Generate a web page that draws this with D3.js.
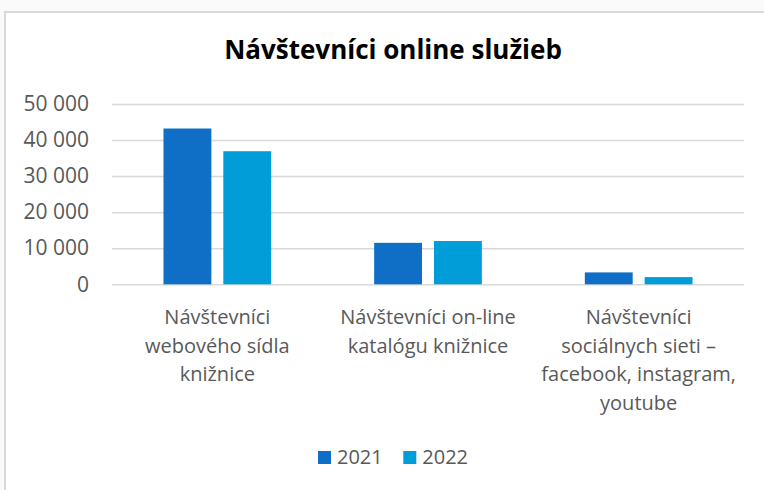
<!DOCTYPE html>
<html>
<head>
<meta charset="utf-8">
<script src="https://cdn.jsdelivr.net/npm/d3@7"></script>
<style>
  html, body { margin: 0; padding: 0; background: #fafafa; }
  svg { display: block; font-family: "Open Sans", sans-serif; }
</style>
</head>
<body>
<div id="root"></div>
<script>
const categories = [
  ["Návštevníci", "webového sídla", "knižnice"],
  ["Návštevníci on-line", "katalógu knižnice"],
  ["Návštevníci", "sociálnych sieti –", "facebook, instagram,", "youtube"]
];
const years = ["2021", "2022"];
const values2021 = [43200, 11500, 3300];
const values2022 = [36900, 12000, 2000];
const yTicks = [0, 10000, 20000, 30000, 40000, 50000];
const colors = ["#0f6fc6", "#009dd9"];

const W = 764, H = 490;
const plot = {left: 112, right: 744, top: 104, bottom: 284.3};

const svg = d3.select("#root").append("svg")
    .attr("width", W)
    .attr("height", H);

// chart frame
svg.append("rect")
    .attr("x", 5).attr("y", 12)
    .attr("width", W + 20).attr("height", H + 20)
    .attr("fill", "#fff")
    .attr("stroke", "#d9d9d9")
    .attr("stroke-width", 2);

svg.append("text")
    .attr("x", 393)
    .attr("y", 59)
    .attr("text-anchor", "middle")
    .attr("font-weight", "bold")
    .attr("font-size", 26)
    .attr("fill", "#000")
    .text("Návštevníci online služieb");

const rows = categories.map((c, i) => ({cat: i, vals: [values2021[i], values2022[i]]}));

const x0 = d3.scaleBand()
    .domain(d3.range(categories.length))
    .range([plot.left, plot.right]);

const groupW = 107.7;
const x1 = d3.scaleBand()
    .domain(years)
    .range([0, groupW])
    .paddingInner(0.2);

const y = d3.scaleLinear()
    .domain([0, 50000])
    .range([plot.bottom, plot.top]);

const fmt = d3.formatLocale({decimal: ",", thousands: " ", grouping: [3], currency: ["", " €"]}).format(",");

const yAxis = d3.axisLeft(y)
    .tickValues(yTicks)
    .tickFormat(fmt)
    .tickSize(-(plot.right - plot.left))
    .tickPadding(23);

const gy = svg.append("g")
    .attr("transform", "translate(" + plot.left + ",0)")
    .call(yAxis);
gy.select(".domain").remove();
gy.selectAll(".tick line")
    .attr("stroke", "#d9d9d9")
    .attr("stroke-width", 1.5);
gy.selectAll(".tick text")
    .attr("fill", "#595959")
    .attr("font-size", 21)
    .attr("font-family", "Open Sans, sans-serif");

// bars
const groups = svg.selectAll(".grp")
    .data(rows)
    .enter().append("g")
    .attr("class", "grp")
    .attr("transform", d => "translate(" + (x0(d.cat) + (x0.bandwidth() - groupW) / 2) + ",0)");

groups.selectAll("rect")
    .data(d => d.vals.map((v, i) => ({year: years[i], v: v, i: i})))
    .enter().append("rect")
    .attr("x", d => x1(d.year))
    .attr("width", x1.bandwidth())
    .attr("y", d => y(d.v))
    .attr("height", d => y(0) - y(d.v))
    .attr("fill", d => colors[d.i]);

// category labels
const xAxis = d3.axisBottom(x0).tickSize(0).tickFormat("");
const gx = svg.append("g")
    .attr("transform", "translate(0," + plot.bottom + ")")
    .call(xAxis);
gx.select(".domain").remove();
gx.selectAll(".tick").each(function(d) {
  const t = d3.select(this).append("text")
      .attr("fill", "#595959")
      .attr("font-size", 20)
      .attr("font-family", "Open Sans, sans-serif")
      .attr("text-anchor", "middle");
  categories[d].forEach((line, k) => {
    t.append("tspan")
      .attr("x", 0)
      .attr("y", 40 + k * 28.6)
      .text(line);
  });
});

// legend
const legend = svg.selectAll(".legend")
    .data(years)
    .enter().append("g")
    .attr("class", "legend")
    .attr("transform", (d, i) => "translate(" + (318 + i * 85.3) + ",451)");

legend.append("rect")
    .attr("width", 13).attr("height", 13)
    .attr("fill", (d, i) => colors[i]);

legend.append("text")
    .attr("x", 19)
    .attr("y", 13)
    .attr("fill", "#595959")
    .attr("font-size", 20)
    .text(d => d);
</script>
</body>
</html>
